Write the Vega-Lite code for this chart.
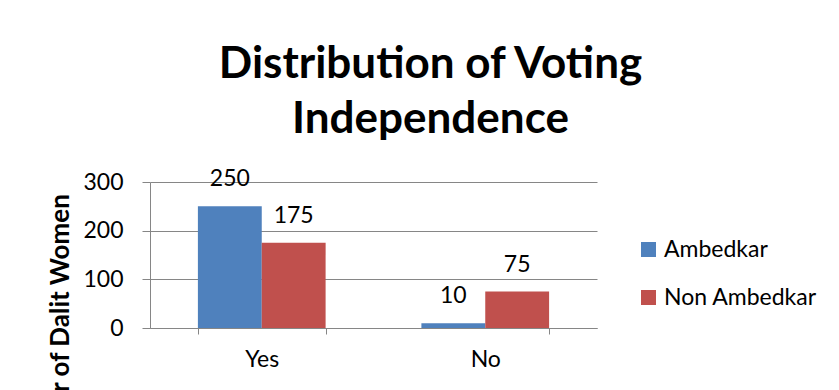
{
  "$schema": "https://vega.github.io/schema/vega-lite/v6.json",
  "autosize": {"type": "none"},
  "width": 447,
  "height": 146,
  "padding": {"left": 150, "top": 182, "right": 242, "bottom": 62},
  "background": "white",
  "title": {
    "text": ["Distribution of Voting", "Independence"],
    "fontSize": 44,
    "font": "Lato",
    "fontWeight": "bold",
    "color": "black",
    "lineHeight": 55,
    "anchor": "middle",
    "frame": "group",
    "dx": 57,
    "offset": 26
  },
  "data": {
    "values": [
      {"answer": "Yes", "group": "Ambedkar", "count": 250},
      {"answer": "Yes", "group": "Non Ambedkar", "count": 175},
      {"answer": "No", "group": "Ambedkar", "count": 10},
      {"answer": "No", "group": "Non Ambedkar", "count": 75}
    ]
  },
  "encoding": {
    "x": {
      "field": "answer",
      "type": "nominal",
      "sort": ["Yes", "No"],
      "scale": {"paddingInner": 0.4286, "paddingOuter": 0.2143},
      "axis": {
        "title": null,
        "labelAngle": 0,
        "labelFontSize": 23,
        "labelFont": "Lato",
        "labelColor": "black",
        "labelPadding": 14,
        "tickBand": "extent",
        "tickSize": 6,
        "tickColor": "#868686",
        "domainColor": "#868686",
        "grid": false
      }
    },
    "xOffset": {
      "field": "group",
      "type": "nominal",
      "sort": ["Ambedkar", "Non Ambedkar"],
      "scale": {"paddingInner": 0, "paddingOuter": 0}
    },
    "y": {
      "field": "count",
      "type": "quantitative",
      "scale": {"domain": [0, 300]},
      "axis": {
        "title": "Number of Dalit Women",
        "titleFont": "Lato",
        "titleFontSize": 26,
        "titleFontWeight": "bold",
        "titleColor": "black",
        "titleAngle": 270,
        "titleAlign": "center",
        "titleBaseline": "alphabetic",
        "titleX": -82,
        "titleY": 153,
        "values": [0, 100, 200, 300],
        "labelFontSize": 23,
        "labelFont": "Lato",
        "labelColor": "black",
        "labelPadding": 19,
        "tickSize": 8,
        "tickColor": "#868686",
        "domainColor": "#868686",
        "gridColor": "#868686",
        "grid": true
      }
    }
  },
  "layer": [
    {
      "mark": {"type": "bar"},
      "encoding": {
        "color": {
          "field": "group",
          "type": "nominal",
          "sort": ["Ambedkar", "Non Ambedkar"],
          "scale": {"range": ["#4F81BD", "#C0504D"]},
          "legend": {
            "title": null,
            "orient": "none",
            "legendX": 487,
            "legendY": 56,
            "symbolType": "square",
            "symbolSize": 225,
            "symbolStrokeWidth": 0,
            "labelFontSize": 23,
            "labelFont": "Lato",
            "labelColor": "black",
            "labelOffset": 4,
            "rowPadding": 24,
            "labelLimit": 300
          }
        }
      }
    },
    {
      "mark": {"type": "text", "baseline": "alphabetic", "dy": -20, "fontSize": 23, "font": "Lato", "color": "black"},
      "encoding": {
        "text": {"field": "count", "type": "quantitative"}
      }
    }
  ],
  "config": {
    "view": {"stroke": null}
  }
}
